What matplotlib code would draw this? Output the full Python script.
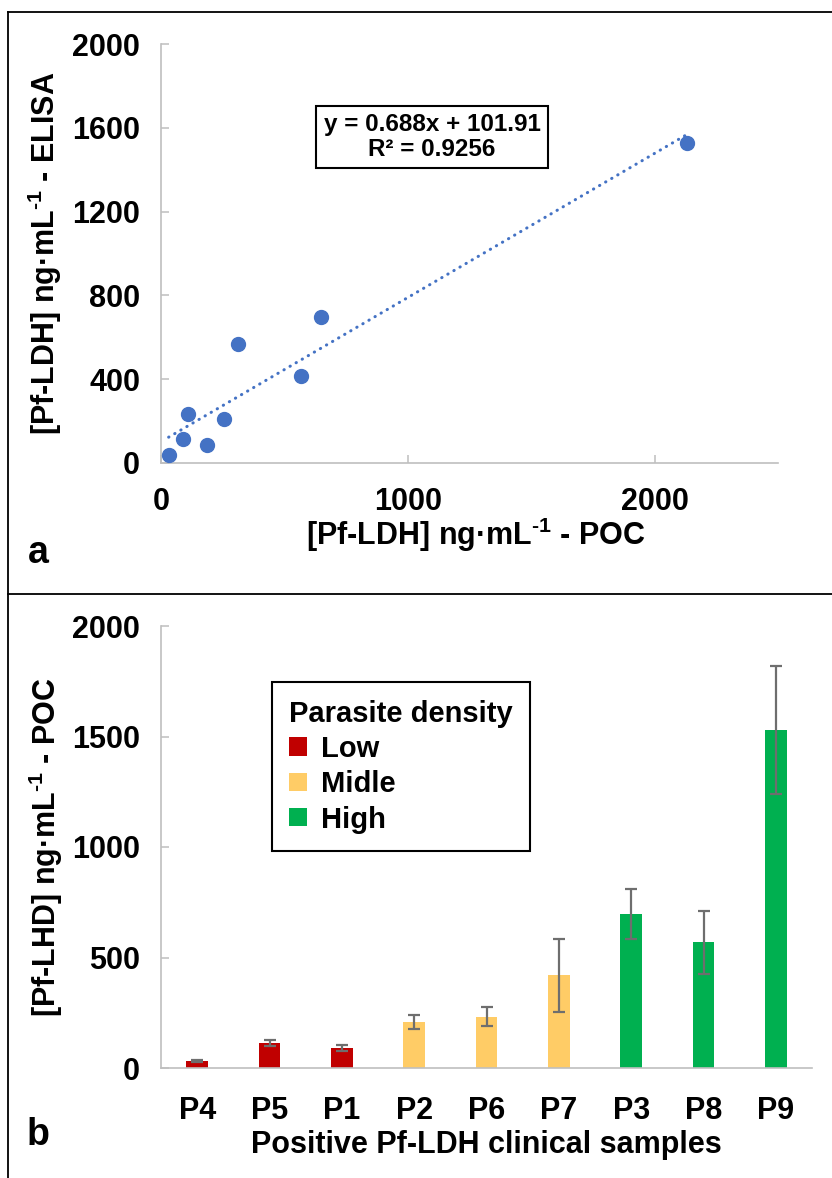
import matplotlib
matplotlib.use("Agg")
import numpy as np
from matplotlib import pyplot as plt
from matplotlib.patches import Patch
from matplotlib.lines import Line2D

plt.rcParams["font.family"] = ["Liberation Sans", "DejaVu Sans"]
plt.rcParams["font.weight"] = "bold"
plt.rcParams["mathtext.fontset"] = "custom"
plt.rcParams["mathtext.rm"] = "Liberation Sans:bold"
plt.rcParams["mathtext.bf"] = "Liberation Sans:bold"
plt.rcParams["mathtext.default"] = "rm"

# panel a: POC vs ELISA
poc_x = [31, 89, 108, 186, 256, 314, 569, 648, 2131]
elisa_y = [36, 114, 234, 88, 209, 567, 416, 697, 1527]
fit_slope = 0.688
fit_intercept = 101.91
fit_text = "y = 0.688x + 101.91\nR² = 0.9256"

# panel b: bars by sample
samples = ["P4", "P5", "P1", "P2", "P6", "P7", "P3", "P8", "P9"]
bar_values = [33, 113, 89, 209, 233, 420, 697, 568, 1530]
bar_errors = [4, 15, 14, 32, 44, 165, 114, 144, 290]
density = ["Low", "Low", "Low", "Midle", "Midle", "Midle", "High", "High", "High"]
density_colors = {"Low": "#C00000", "Midle": "#FFCC66", "High": "#00B050"}

W, H = 832, 1178
AX_GRAY = "#BFBFBF"
TICK_FS = 22
LABEL_FS = 22
UNIT = r"ng·mL$^{\text{-1}}$"


def fx(px):
    return px / W


def fy(py):
    return 1 - py / H


def style_axes(ax):
    for side in ("top", "right"):
        ax.spines[side].set_visible(False)
    for side in ("left", "bottom"):
        ax.spines[side].set_color(AX_GRAY)
        ax.spines[side].set_linewidth(1.2)
    ax.tick_params(direction="in", length=6, width=1.1, color=AX_GRAY,
                   labelsize=TICK_FS, pad=15)
    for lab in ax.get_xticklabels() + ax.get_yticklabels():
        lab.set_fontweight("bold")


fig = plt.figure(figsize=(W / 100, H / 100), dpi=100)

# panel a
ax1 = fig.add_axes([fx(161), fy(463), fx(778) - fx(161), fy(44) - fy(463)])
ax1.plot(poc_x, elisa_y, "o", color="#4472C4", markersize=10, zorder=3)
xs = np.array([min(poc_x), max(poc_x)])
ax1.plot(xs, fit_slope * xs + fit_intercept, color="#4472C4", lw=2.2,
         linestyle=(0, (0.1, 2.2)), dash_capstyle="round", zorder=2)
ax1.set_xlim(0, 2500)
ax1.set_ylim(0, 2000)
ax1.set_xticks([0, 1000, 2000])
ax1.set_yticks(range(0, 2001, 400))
style_axes(ax1)
ax1.tick_params(axis="x", pad=17)
ax1.text(fx(432), fy(137), fit_text, transform=fig.transFigure,
         ha="center", va="center", fontsize=17.5, fontweight="bold",
         linespacing=1.1,
         bbox=dict(boxstyle="square,pad=0.3", fc="white", ec="black", lw=1.5))

# panel b
ax2 = fig.add_axes([fx(161), fy(1068), fx(812) - fx(161), fy(626) - fy(1068)])
pos = np.arange(len(samples))
cols = [density_colors[d] for d in density]
ax2.bar(pos, bar_values, width=0.3, color=cols, zorder=2)
ax2.errorbar(pos, bar_values, yerr=bar_errors, fmt="none", ecolor="#6E6E6E",
             elinewidth=1.6, capsize=4.5, capthick=1.6, zorder=3)
ax2.set_xlim(-0.5, len(samples) - 0.5)
ax2.set_ylim(0, 2000)
ax2.set_yticks(range(0, 2001, 500))
ax2.set_xticks(pos)
ax2.set_xticklabels(samples)
style_axes(ax2)
ax2.tick_params(axis="x", pad=20)

handles = [Patch(facecolor=density_colors[k], edgecolor="none", label=k)
           for k in ["Low", "Midle", "High"]]
leg = ax2.legend(handles=handles, title="Parasite density", loc="upper left",
                 bbox_to_anchor=(0.17, 0.873), borderaxespad=0, fancybox=False,
                 edgecolor="black", framealpha=1, fontsize=21,
                 title_fontproperties={"weight": "bold", "size": 21},
                 handlelength=0.6, handleheight=0.6, handletextpad=0.5,
                 labelspacing=0.25, borderpad=0.6, alignment="left")
leg.get_frame().set_linewidth(1.5)

# axis titles as figure text
fig.text(fx(45), fy(253), f"[Pf-LDH] {UNIT} - ELISA", rotation=90,
         ha="center", va="center", fontsize=LABEL_FS, fontweight="bold")
fig.text(fx(476), fy(535), f"[Pf-LDH] {UNIT} - POC", ha="center",
         va="center", fontsize=LABEL_FS, fontweight="bold")
fig.text(fx(46), fy(847), f"[Pf-LHD] {UNIT} - POC", rotation=90,
         ha="center", va="center", fontsize=LABEL_FS, fontweight="bold")
fig.text(fx(486), fy(1145), "Positive Pf-LDH clinical samples", ha="center",
         va="center", fontsize=LABEL_FS, fontweight="bold")
fig.text(fx(38), fy(553), "a", ha="center", va="center", fontsize=27,
         fontweight="bold")
fig.text(fx(38), fy(1135), "b", ha="center", va="center", fontsize=27,
         fontweight="bold")

# panel frames
frame_kw = dict(color="black", lw=1.3, transform=fig.transFigure)
fig.add_artist(Line2D([fx(8), 1], [fy(12), fy(12)], **frame_kw))
fig.add_artist(Line2D([fx(8), fx(8)], [fy(12), 0], **frame_kw))
fig.add_artist(Line2D([fx(8), 1], [fy(594), fy(594)], **frame_kw))

fig.savefig("out.png", dpi=100)
